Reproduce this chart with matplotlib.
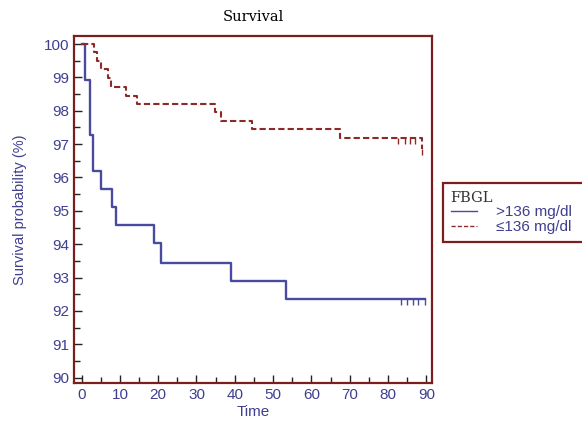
import matplotlib
matplotlib.use('Agg')
import matplotlib.pyplot as plt
from matplotlib.lines import Line2D
from matplotlib.ticker import MultipleLocator

plt.rcParams['font.family'] = ['Liberation Sans', 'DejaVu Sans']

# Kaplan-Meier step data
high_times = [0, 1.0, 2.2, 3.0, 5.2, 8.0, 8.9, 19.0, 20.7, 38.9, 53.5, 89.6]
high_surv = [100, 98.92, 97.27, 96.2, 95.65, 95.1, 94.57, 94.03, 93.45, 92.9, 92.35, 92.35]
high_cens_t = [83.5, 85.0, 86.6, 87.9, 89.6]

low_times = [0, 3.3, 3.9, 5.0, 6.8, 7.6, 11.7, 14.6, 34.8, 36.5, 44.4, 67.4, 89.0, 89.0]
low_surv = [100, 99.77, 99.5, 99.24, 98.97, 98.7, 98.45, 98.2, 97.95, 97.7, 97.44, 97.18, 96.85, 96.85]
low_cens_t = [82.7, 84.4, 85.7, 87.0, 89.0]

xticks = list(range(0, 91, 10))
yticks = list(range(90, 101))

blue = '#4a4a9e'
red = '#8c2a2a'
frame = '#7a1e1e'
label_col = '#3f3f8f'

fig = plt.figure(figsize=(5.82, 4.22), dpi=100)
ax = fig.add_axes([0.127, 0.0924, 0.615, 0.8223])

ax.step(high_times, high_surv, where='post', color=blue, lw=1.7)
ax.plot(high_cens_t, [high_surv[-1]] * len(high_cens_t), ls='none',
        marker=3, ms=4, mew=1, color=blue)
ax.step(low_times, low_surv, where='post', color=red, lw=1.5, ls=(0, (3, 1.5)))
ax.plot(low_cens_t[:-1], [low_surv[-3]] * (len(low_cens_t) - 1), ls='none',
        marker=3, ms=4, mew=1, color=red)
ax.plot([low_cens_t[-1]], [low_surv[-1]], ls='none', marker=3, ms=4, mew=1, color=red)

ax.set_xlim(-2.0, 91.45)
ax.set_ylim(89.84, 100.24)
ax.set_xticks(xticks)
ax.set_yticks(yticks)
ax.xaxis.set_minor_locator(MultipleLocator(5))
ax.yaxis.set_minor_locator(MultipleLocator(0.5))
ax.tick_params(which='both', direction='in', color='#222222', labelcolor=label_col,
               labelsize=11)
ax.tick_params(which='major', length=6, width=1)
ax.tick_params(which='minor', length=4, width=1)
for s in ax.spines.values():
    s.set_color(frame)
    s.set_linewidth(1.6)

ax.set_xlabel('Time', color=label_col, fontsize=11, labelpad=2)
ax.set_ylabel('Survival probability (%)', color=label_col, fontsize=10.5, labelpad=12)
ax.set_title('Survival', fontfamily='serif', fontsize=10.5, pad=11)

handles = [Line2D([], [], color=blue, lw=1),
           Line2D([], [], color=red, lw=1, ls=(0, (3, 1.5)))]
leg = ax.legend(handles, ['>136 mg/dl', '\u2264136 mg/dl'], title='FBGL',
                loc='upper left', bbox_to_anchor=(443 / 582, 1 - 183 / 422, 0.4, 0.0),
                bbox_transform=fig.transFigure, mode='expand', borderaxespad=0,
                fancybox=False, framealpha=1, edgecolor=frame, fontsize=11,
                handlelength=1.7, handletextpad=1.3, borderpad=0.5,
                labelspacing=0.05, alignment='left', labelcolor=label_col)
leg.get_frame().set_linewidth(1.6)
leg.get_title().set_fontfamily('serif')
leg.get_title().set_color('#333333')
leg.get_title().set_fontsize(10.5)

fig.savefig('out.png', dpi=100)
